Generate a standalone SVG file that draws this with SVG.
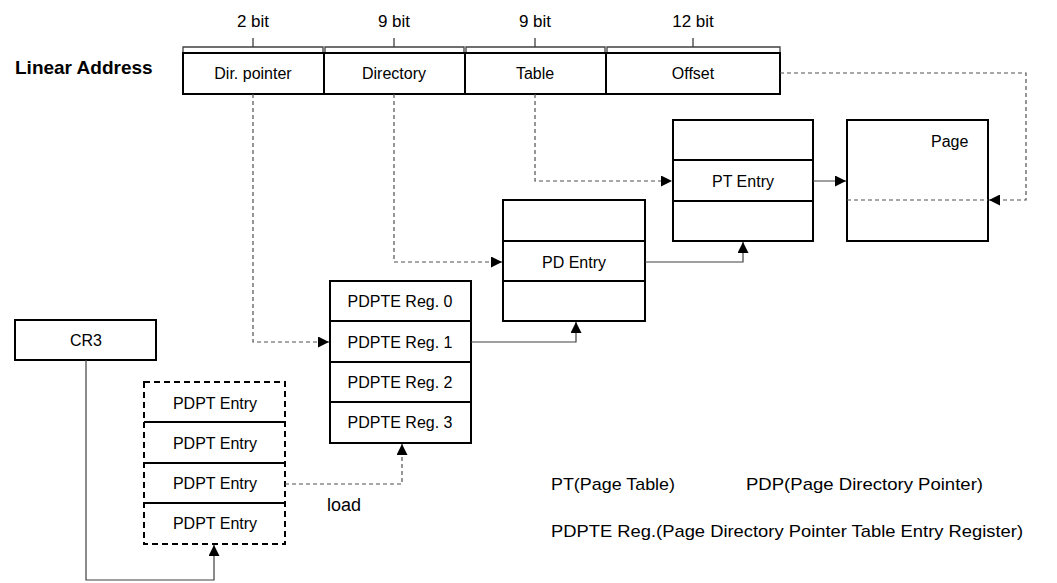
<svg xmlns="http://www.w3.org/2000/svg" width="1057" height="583" viewBox="0 0 1057 583">
<defs>
<marker id="arr" viewBox="0 0 10 10" refX="10" refY="5" markerWidth="11" markerHeight="11" markerUnits="userSpaceOnUse" orient="auto">
<path d="M0,0 L10,5 L0,10 z" fill="#000"/>
</marker>
<style>
text{font-family:"Liberation Sans",Arial,sans-serif;font-size:16px;fill:#000}
.c{text-anchor:middle}
.bit{font-size:17px}
.lg{font-size:17px}
.box{fill:#fff;stroke:#000;stroke-width:2}
.dbox{fill:#fff;stroke:#000;stroke-width:2;stroke-dasharray:6,4}
.div{stroke:#000;stroke-width:2}
.br{fill:none;stroke:#404040;stroke-width:1.3}
.sol{fill:none;stroke:#404040;stroke-width:1.2}
.dsh{fill:none;stroke:#505050;stroke-width:1.2;stroke-dasharray:4,3}
</style>
</defs>
<rect width="1057" height="583" fill="#fff"/>

<g id="linear-address">
<text x="15" y="74" style="font-weight:bold;font-size:19px">Linear Address</text>
<path class="br" d="M183,52 V47 H323 V52 M253,47 V38"/>
<path class="br" d="M325,52 V47 H464 V52 M394,47 V38"/>
<path class="br" d="M466,52 V47 H605 V52 M535,47 V38"/>
<path class="br" d="M607,52 V47 H780 V52 M693,47 V38"/>
<text class="c bit" x="253" y="27">2 bit</text>
<text class="c bit" x="394" y="27">9 bit</text>
<text class="c bit" x="535" y="27">9 bit</text>
<text class="c bit" x="693" y="27">12 bit</text>
<rect class="box" x="183" y="53" width="597" height="41"/>
<path class="div" d="M324,53 V94 M465,53 V94 M606,53 V94"/>
<text class="c" x="253" y="79">Dir. pointer</text>
<text class="c" x="394" y="79">Directory</text>
<text class="c" x="535" y="79">Table</text>
<text class="c" x="693" y="79">Offset</text>
</g>

<g id="pt">
<rect class="box" x="673" y="120" width="140" height="121"/>
<path class="div" d="M673,160 H813 M673,201 H813"/>
<text class="c" x="743" y="187">PT Entry</text>
</g>

<g id="page">
<rect class="box" x="847" y="120" width="141" height="121"/>
<text x="931" y="147">Page</text>
<path class="dsh" d="M847,200 H988"/>
</g>

<g id="pd">
<rect class="box" x="503" y="200" width="142" height="121"/>
<path class="div" d="M503,241 H645 M503,281 H645"/>
<text class="c" x="574" y="268">PD Entry</text>
</g>

<g id="pdpte">
<rect class="box" x="330" y="281" width="141" height="162"/>
<path class="div" d="M330,321 H471 M330,362 H471 M330,402 H471"/>
<text class="c" x="400" y="307">PDPTE Reg. 0</text>
<text class="c" x="400" y="348">PDPTE Reg. 1</text>
<text class="c" x="400" y="388">PDPTE Reg. 2</text>
<text class="c" x="400" y="428">PDPTE Reg. 3</text>
</g>

<g id="cr3">
<rect class="box" x="15" y="320" width="141" height="40"/>
<text class="c" x="86" y="346">CR3</text>
</g>

<g id="pdpt">
<rect class="dbox" x="144" y="382" width="141" height="162"/>
<path class="div" d="M144,422 H285 M144,463 H285 M144,503 H285"/>
<text class="c" x="215" y="409">PDPT Entry</text>
<text class="c" x="215" y="449">PDPT Entry</text>
<text class="c" x="215" y="489">PDPT Entry</text>
<text class="c" x="215" y="529">PDPT Entry</text>
</g>

<g id="connectors">
<path class="dsh" d="M780,73 H1026 V200 H989" marker-end="url(#arr)"/>
<path class="dsh" d="M535,94 V181 H672" marker-end="url(#arr)"/>
<path class="dsh" d="M394,94 V262 H502" marker-end="url(#arr)"/>
<path class="dsh" d="M253,94 V342 H329" marker-end="url(#arr)"/>
<path class="sol" d="M813,181 H846" marker-end="url(#arr)"/>
<path class="sol" d="M645,262 H743 V242" marker-end="url(#arr)"/>
<path class="sol" d="M471,342 H576 V322" marker-end="url(#arr)"/>
<path class="dsh" d="M285,484 H402 V444" marker-end="url(#arr)"/>
<path class="sol" d="M86,360 V580 H214 V545" marker-end="url(#arr)"/>
<text x="327" y="511" style="font-size:18px">load</text>
</g>

<g id="legend">
<text class="lg" x="551" y="490" textLength="124" lengthAdjust="spacingAndGlyphs">PT(Page Table)</text>
<text class="lg" x="746" y="490" textLength="237" lengthAdjust="spacingAndGlyphs">PDP(Page Directory Pointer)</text>
<text class="lg" x="551" y="537" textLength="472" lengthAdjust="spacingAndGlyphs">PDPTE Reg.(Page Directory Pointer Table Entry Register)</text>
</g>
</svg>
